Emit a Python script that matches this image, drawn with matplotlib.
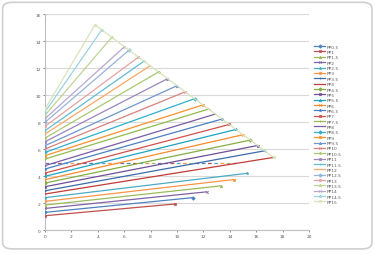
import matplotlib
matplotlib.use("Agg")
import matplotlib.pyplot as plt
from matplotlib.patches import FancyBboxPatch

# series names, legend order
names = ["PP0.5", "PP1", "PP1.5", "PP2", "PP2.5", "PP3", "PP3.5", "PP4", "PP4.5", "PP5",
         "PP5.5", "PP6", "PP6.5", "PP7", "PP7.5", "PP8", "PP8.5", "PP9", "PP9.5", "PP10",
         "PP10.5", "PP11", "PP11.5", "PP12", "PP12.5", "PP13", "PP13.5", "PP14", "PP14.5", "PP15"]

# value at x = 0
start_y = [1.31, 1.06, 1.85, 1.60, 2.40, 2.12, 2.91, 2.67, 3.48, 3.21,
           3.98, 3.73, 4.52, 4.22, 5.26, 4.77, 5.75, 5.51, 6.25, 6.00,
           6.81, 6.54, 7.36, 7.11, 7.98, 7.68, 8.50, 8.25, 8.75, 8.96]

# end points of each series
end_x = [11.20, 9.87, 13.30, 12.25, 15.30, 14.30, 16.64, 17.32, 15.55, 16.10,
         14.47, 15.00, 13.40, 13.96, 12.39, 12.90, 11.33, 11.96, 10.00, 10.62,
         8.60, 9.28, 7.50, 7.97, 6.37, 7.08, 5.06, 6.02, 4.30, 3.79]
end_y = [2.40, 1.93, 3.27, 2.83, 4.20, 3.74, 5.87, 5.38, 6.66, 6.26,
         7.45, 7.06, 8.22, 7.82, 8.96, 8.59, 9.73, 9.27, 10.69, 10.24,
         11.71, 11.21, 12.51, 12.17, 13.33, 12.81, 14.28, 13.58, 14.83, 15.20]

# last series runs on down the outer edge
tail_x = [17.32]
tail_y = [5.38]

# horizontal dashed row at 5
row_x = [0, 14.5]
row_y = [5.0, 5.0]

colors = ["#4F81BD", "#C0504D", "#9BBB59", "#8064A2", "#4BACC6", "#F79646",
          "#3A6CAA", "#C23B36", "#86AD45", "#6E4F96", "#1CA3C2", "#F68B2C",
          "#4C7FC0", "#D0504C", "#92BA50", "#7A5CA5", "#2FB0CC", "#F7922E",
          "#6E97CC", "#D8817F", "#A9C873", "#9A85BC", "#62BCD3", "#F9A866",
          "#96B3DB", "#E3A3A1", "#BDD596", "#B6A8D0", "#9BD3E2", "#D7E4BD"]
markers = ["D", "s", "^", "x", "*", "o", "+", "_"]

fig = plt.figure(figsize=(3.75, 2.55), dpi=100)
fig.patch.set_facecolor("white")
frame = FancyBboxPatch((0.007, 0.02), 0.985, 0.967,
                       boxstyle="round,pad=0,rounding_size=0.025",
                       transform=fig.transFigure, facecolor="white",
                       edgecolor="#CFCFCF", lw=1.2, zorder=-10)
fig.add_artist(frame)

ax = fig.add_axes([0.12, 0.094, 0.704, 0.847])
ax.set_facecolor("none")

for i, name in enumerate(names):
    xs = [0, end_x[i]]
    ys = [start_y[i], end_y[i]]
    if i == len(names) - 1:
        xs += tail_x
        ys += tail_y
    ax.plot(xs, ys, color=colors[i], lw=0.9, marker=markers[i % len(markers)],
            markersize=1.8, markeredgewidth=0.5, label=name, zorder=3)

row_cols = ["#8064A2", "#4F81BD", "#C0504D", "#4BACC6", "#F79646", "#9BBB59"]
n = len(row_cols)
period = n * 5.0
for j, c in enumerate(row_cols):
    ax.plot(row_x, row_y, color=c, lw=0.9,
            linestyle=((period - j * 5.0) % period, (3.0, period - 3.0)), zorder=2)

ax.set_xlim(0, 20)
ax.set_ylim(0, 16)
ax.set_xticks(range(0, 21, 2))
ax.set_yticks(range(0, 17, 2))
ax.yaxis.grid(True, color="#D9D9D9", lw=0.8)
ax.set_axisbelow(True)
for s in ["top", "right"]:
    ax.spines[s].set_visible(False)
for s in ["left", "bottom"]:
    ax.spines[s].set_color("#BFBFBF")
    ax.spines[s].set_linewidth(0.8)
ax.tick_params(labelsize=3.2, colors="#595959", length=1.5, width=0.5, pad=1.5)

ax.legend(loc="upper left", bbox_to_anchor=(0.832, 0.83), bbox_transform=fig.transFigure,
          frameon=False, fontsize=3.2, labelspacing=0.28, handlelength=2.4,
          handletextpad=0.3, borderpad=0, labelcolor="#595959")

fig.savefig("out.png", dpi=100)
